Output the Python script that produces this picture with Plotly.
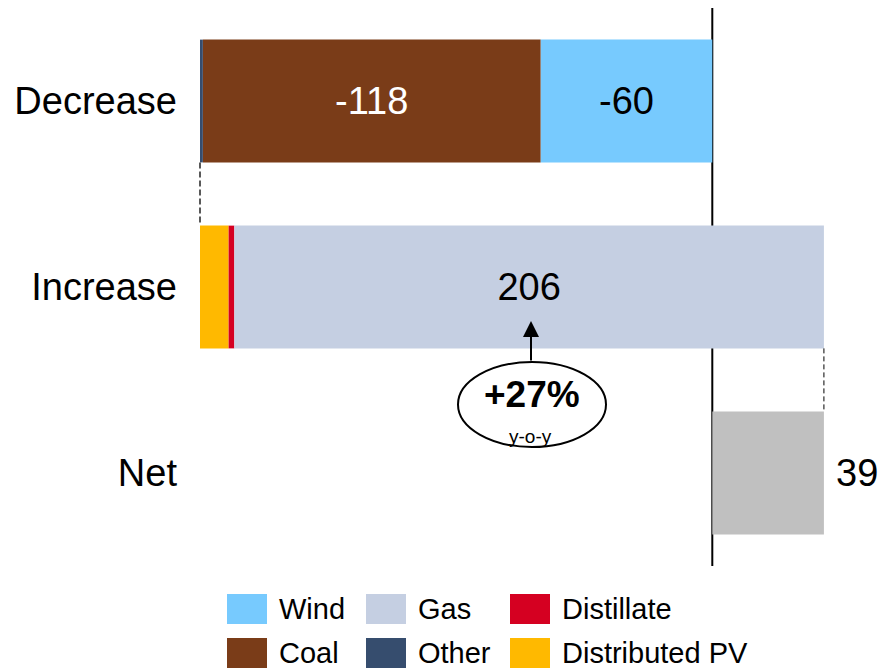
import plotly.graph_objects as go

# ---------------- data ----------------
categories = ["Decrease", "Increase", "Net"]

decrease_series = ["Wind", "Coal", "Other"]
decrease_values = [-60, -118, -1]

increase_series = ["Distributed PV", "Distillate", "Gas"]
increase_values = [10, 2, 206]

net_value = 39

label_series = ["Wind", "Coal", "Gas"]  # segments that show their value

yoy_text = "+27%"
yoy_sub = "y-o-y"

legend_rows = [["Wind", "Gas", "Distillate"], ["Coal", "Other", "Distributed PV"]]

colors = {
    "Wind": "#77CAFE",
    "Coal": "#7A3C18",
    "Other": "#364D6E",
    "Gas": "#C5CFE2",
    "Distillate": "#D50021",
    "Distributed PV": "#FFB900",
    "Net": "#C0C0C0",
}
text_colors = {"Coal": "white", "Wind": "black", "Gas": "black"}

FONT = "Liberation Sans"
W, H = 879, 671
ML, MR, MT, MB = 190, 0, 8, 671 - 566
BAR_W = 0.66

fig = go.Figure()

# decrease segments, stacking leftwards from zero
base = 0
for name, v in zip(decrease_series, decrease_values):
    show = name in label_series
    fig.add_trace(go.Bar(
        y=[categories[0]], x=[v], base=[base], orientation="h", name=name,
        marker=dict(color=colors[name], line=dict(width=0)), width=BAR_W,
        text=[f"{v}"] if show else None, textposition="inside",
        insidetextanchor="middle", constraintext="none",
        textfont=dict(family=FONT, size=38, color=text_colors.get(name, "black")),
        showlegend=False, hoverinfo="name+x",
    ))
    base += v
decrease_total = base

# increase segments, stacking rightwards from decrease total
base = decrease_total
for name, v in zip(increase_series, increase_values):
    show = name in label_series
    fig.add_trace(go.Bar(
        y=[categories[1]], x=[v], base=[base], orientation="h", name=name,
        marker=dict(color=colors[name], line=dict(width=0)), width=BAR_W,
        text=[f"{v}"] if show else None, textposition="inside",
        insidetextanchor="middle", constraintext="none",
        textfont=dict(family=FONT, size=38, color=text_colors.get(name, "black")),
        showlegend=False, hoverinfo="name+x",
    ))
    base += v
increase_end = base

# net
fig.add_trace(go.Bar(
    y=[categories[2]], x=[net_value], base=[0], orientation="h", name="Net",
    marker=dict(color=colors["Net"], line=dict(width=0)), width=BAR_W,
    showlegend=False, hoverinfo="name+x",
))

# axis ranges
px_per_unit = 2.862
plot_w = W - ML - MR
plot_h = H - MT - MB
x_left = decrease_total - 10 / px_per_unit
x_right = x_left + plot_w / px_per_unit
px_per_cat = plot_h / 3.0

# helpers: reference-image pixels -> axis / paper coords
def xv(px):
    return (px - ML) / px_per_unit + x_left
def yv(py):
    return (py - MT) / px_per_cat - 0.5
def px_paper_x(px):
    return (px - ML) / plot_w
def px_paper_y(py):
    return 1 - (py - MT) / plot_h

shapes = []
# zero line behind bars
shapes.append(dict(type="line", xref="x", yref="paper", x0=0, x1=0, y0=0, y1=1,
                   line=dict(color="black", width=2), layer="below"))
# dashed connectors
shapes.append(dict(type="line", xref="x", yref="y", x0=decrease_total, x1=decrease_total,
                   y0=0 + BAR_W / 2, y1=1 - BAR_W / 2,
                   line=dict(color="black", width=1.3, dash="6px,3px")))
shapes.append(dict(type="line", xref="x", yref="y", x0=increase_end, x1=increase_end,
                   y0=1 + BAR_W / 2, y1=2 - BAR_W / 2,
                   line=dict(color="black", width=1, dash="5px,3px")))

# y-o-y callout (ellipse + arrow)
cx, cy, rx, ry = 532, 404.5, 74, 42.5
shapes.append(dict(type="circle", xref="x", yref="y",
                   x0=xv(cx - rx), x1=xv(cx + rx), y0=yv(cy - ry), y1=yv(cy + ry),
                   line=dict(color="black", width=2), fillcolor="white"))

annotations = [
    dict(x=xv(531), y=yv(321), ax=xv(531), ay=yv(cy - ry), xref="x", yref="y",
         axref="x", ayref="y", showarrow=True, arrowhead=2, arrowsize=1.6,
         arrowwidth=2, arrowcolor="black", text=""),
    dict(x=xv(532), y=yv(394), xref="x", yref="y", text=f"<b>{yoy_text}</b>",
         showarrow=False, font=dict(family=FONT, size=37, color="black")),
    dict(x=xv(530), y=yv(436), xref="x", yref="y", text=yoy_sub,
         showarrow=False, font=dict(family=FONT, size=19, color="black")),
    # net value label beside the bar
    dict(x=net_value, y=categories[2], xref="x", yref="y", text=f"{net_value}",
         showarrow=False, xanchor="left", yanchor="middle", xshift=10,
         font=dict(family=FONT, size=38, color="black")),
]

# manual legend (large swatches as in the original)
col_x = [227, 366, 510]
row_y = [594, 638]
sw, sh = 40, 30
for r, row in enumerate(legend_rows):
    for c, name in enumerate(row):
        x0 = col_x[c]
        y0 = row_y[r]
        shapes.append(dict(type="rect", xref="paper", yref="paper",
                           x0=px_paper_x(x0), x1=px_paper_x(x0 + sw),
                           y0=px_paper_y(y0), y1=px_paper_y(y0 + sh),
                           fillcolor=colors[name], line=dict(width=0)))
        annotations.append(dict(x=px_paper_x(x0 + sw + 10), y=px_paper_y(y0 + sh / 2),
                                xref="paper", yref="paper", text=name, showarrow=False,
                                xanchor="left", yanchor="middle",
                                font=dict(family=FONT, size=29, color="black")))

fig.update_layout(
    width=W, height=H,
    margin=dict(l=ML, r=MR, t=MT, b=MB),
    barmode="overlay",
    plot_bgcolor="white", paper_bgcolor="white",
    font=dict(family=FONT, color="black"),
    shapes=shapes, annotations=annotations,
    showlegend=False,
)
fig.update_xaxes(range=[x_left, x_right], visible=False, showgrid=False, zeroline=False)
fig.update_yaxes(categoryorder="array", categoryarray=categories, range=[2.5, -0.5],
                 showgrid=False, zeroline=False, showline=False, ticks="",
                 ticklabelstandoff=12, tickfont=dict(family=FONT, size=38, color="black"))

# remove the default page margin so the figure sits at the window's top-left corner
fig.write_html(
    "out.html",
    config={"displayModeBar": False},
    post_script="document.body.style.margin='0';document.body.style.overflow='hidden';",
)
